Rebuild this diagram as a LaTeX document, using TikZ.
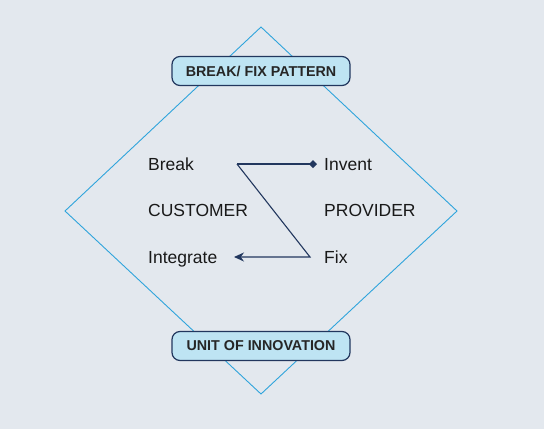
\documentclass[tikz,border=0pt]{standalone}
\usepackage{fontspec}
\setmainfont{Liberation Sans}
\usepackage{xcolor}
\usepackage{tikz}
\usetikzlibrary{arrows.meta,positioning}

\definecolor{bgcol}{HTML}{E3E8EE}
\definecolor{rimcol}{HTML}{2FA4DC}
\definecolor{navy}{HTML}{22375E}
\definecolor{boxfill}{HTML}{BEE4F3}

\begin{document}
\begin{tikzpicture}[
        x=1pt, y=-1pt,
        banner/.style={rectangle, rounded corners=8pt, draw=navy, line width=1.2pt, fill=boxfill, minimum width=178pt, minimum height=29pt, font=\fontsize{14.3}{16}\selectfont\bfseries, text=black!85},
        word/.style={anchor=base west, inner sep=0pt, font=\fontsize{17.5}{20}\selectfont, text=black!90},
        rim/.style={draw=rimcol, line width=0.9pt},
        flow/.style={draw=navy, line width=1.1pt}
    ]
        % Background
        \fill[bgcol] (0,0) rectangle (544,429);
        \useasboundingbox (0,0) rectangle (544,429);

        % Diamond
        \coordinate (top) at (261,27);
        \coordinate (right) at (457,211);
        \coordinate (bottom) at (261,394);
        \coordinate (left) at (65,211);
        \draw[rim] (top) -- (right) -- (bottom) -- (left) -- cycle;

        % Banners
        \node[banner] (pattern) at (261,71) {BREAK/ FIX PATTERN};
        \node[banner] (unit) at (261,346) {UNIT OF INNOVATION};

        % Customer side
        \node[word] (break) at (148,170.5) {Break};
        \node[word] (customer) at (148,216.5) {CUSTOMER};
        \node[word] (integrate) at (148,263.5) {Integrate};

        % Provider side
        \node[word] (invent) at (324,170.5) {Invent};
        \node[word] (provider) at (324,216.5) {PROVIDER};
        \node[word] (fix) at (324,263.5) {Fix};

        % Zigzag
        \coordinate (zstart) at (237,164);
        \coordinate (zinvent) at (317,164);
        \coordinate (zfix) at (310,257);
        \coordinate (zend) at (234,257);
        \draw[flow, -{Diamond[length=8pt,width=8pt]}] (zstart) -- (zinvent);
        \draw[flow, -{Stealth[length=10pt,width=9pt]}] (zstart) -- (zfix) -- (zend);
    \end{tikzpicture}
\end{document}
